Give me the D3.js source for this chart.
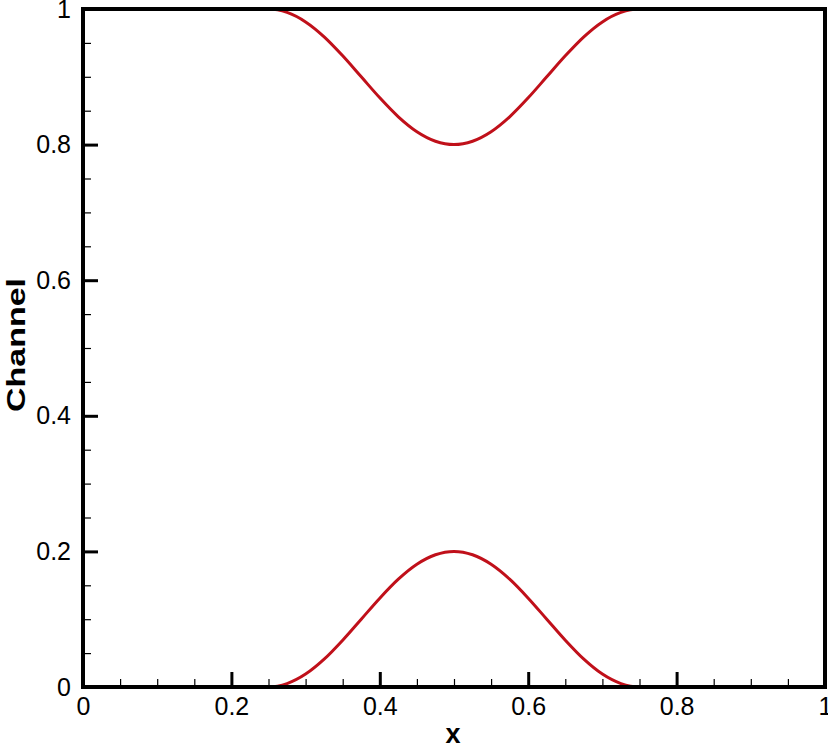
<!DOCTYPE html>
<html>
<head>
<meta charset="utf-8">
<script src="https://cdn.jsdelivr.net/npm/d3@7"></script>
<style>
  body { margin: 0; background: #fff; }
  svg { display: block; font-family: "Liberation Sans", Arial, sans-serif; }
</style>
</head>
<body>
<svg class="chart" width="828" height="745"></svg>
<script>
// channel walls
var xs = [0, 0.05, 0.1, 0.15, 0.2, 0.25, 0.275, 0.3, 0.325, 0.35, 0.375, 0.4, 0.425, 0.45, 0.475, 0.5,
          0.525, 0.55, 0.575, 0.6, 0.625, 0.65, 0.675, 0.7, 0.725, 0.75, 0.8, 0.85, 0.9, 0.95, 1];
var lowerWall = [0, 0, 0, 0, 0, 0, 0.005, 0.019, 0.041, 0.069, 0.100, 0.131, 0.159, 0.181, 0.195, 0.200,
                 0.195, 0.181, 0.159, 0.131, 0.100, 0.069, 0.041, 0.019, 0.005, 0, 0, 0, 0, 0, 0];
var upperWall = [1, 1, 1, 1, 1, 1, 0.995, 0.981, 0.959, 0.931, 0.900, 0.869, 0.841, 0.819, 0.805, 0.800,
                 0.805, 0.819, 0.841, 0.869, 0.900, 0.931, 0.959, 0.981, 0.995, 1, 1, 1, 1, 1, 1];
var majorTicks = [0, 0.2, 0.4, 0.6, 0.8, 1];
var tickLabels = ["0", "0.2", "0.4", "0.6", "0.8", "1"];
var minorTicks = d3.range(0, 21).map(function(i){ return i * 0.05; });

var svg = d3.select("svg.chart"),
    plotL = 83, plotR = 825, plotT = 9, plotB = 687;

var x = d3.scaleLinear().domain([0, 1]).range([plotL, plotR]);
var y = d3.scaleLinear().domain([0, 1]).range([plotB, plotT]);

var red = "#c0101a";

var line = d3.line()
    .x(function(d){ return x(d[0]); })
    .y(function(d){ return y(d[1]); })
    .curve(d3.curveMonotoneX);

[lowerWall, upperWall].forEach(function(wall){
  svg.append("path")
      .datum(xs.map(function(v, i){ return [v, wall[i]]; }))
      .attr("fill", "none")
      .attr("stroke", red)
      .attr("stroke-width", 3)
      .attr("d", line);
});

// minor ticks (inside)
svg.append("g")
    .attr("transform", "translate(0," + plotB + ")")
    .call(d3.axisBottom(x).tickValues(minorTicks).tickSize(-8).tickFormat(""))
    .call(function(g){ g.select(".domain").remove(); g.selectAll("line").attr("stroke-width", 1.2); });
svg.append("g")
    .attr("transform", "translate(" + plotL + ",0)")
    .call(d3.axisLeft(y).tickValues(minorTicks).tickSize(-8).tickFormat(""))
    .call(function(g){ g.select(".domain").remove(); g.selectAll("line").attr("stroke-width", 1.2); });

// major ticks + labels
svg.append("g")
    .attr("transform", "translate(0," + plotB + ")")
    .call(d3.axisBottom(x).tickValues(majorTicks).tickSize(-15).tickPadding(10)
      .tickFormat(function(d, i){ return tickLabels[i]; }))
    .call(function(g){
      g.select(".domain").remove();
      g.selectAll("line").attr("stroke-width", 3);
      g.attr("font-size", 25).attr("font-family", "Liberation Sans, Arial, sans-serif");
      g.selectAll("text").attr("fill", "#000");
    });
svg.append("g")
    .attr("transform", "translate(" + plotL + ",0)")
    .call(d3.axisLeft(y).tickValues(majorTicks).tickSize(-15).tickPadding(12)
      .tickFormat(function(d, i){ return tickLabels[i]; }))
    .call(function(g){
      g.select(".domain").remove();
      g.selectAll("line").attr("stroke-width", 3);
      g.attr("font-size", 25).attr("font-family", "Liberation Sans, Arial, sans-serif");
      g.selectAll("text").attr("fill", "#000");
    });

// frame
svg.append("rect")
    .attr("x", plotL).attr("y", plotT)
    .attr("width", plotR - plotL).attr("height", plotB - plotT)
    .attr("fill", "none")
    .attr("stroke", "#000")
    .attr("stroke-width", 4);

// axis titles
svg.append("text")
    .attr("x", 453).attr("y", 743)
    .attr("text-anchor", "middle")
    .attr("font-size", 27).attr("font-weight", "bold")
    .text("x");

svg.append("text")
    .attr("transform", "translate(25,345) rotate(-90)")
    .attr("text-anchor", "middle")
    .attr("font-size", 26).attr("font-weight", "bold")
    .attr("textLength", 134).attr("lengthAdjust", "spacingAndGlyphs")
    .text("Channel");
</script>
</body>
</html>
